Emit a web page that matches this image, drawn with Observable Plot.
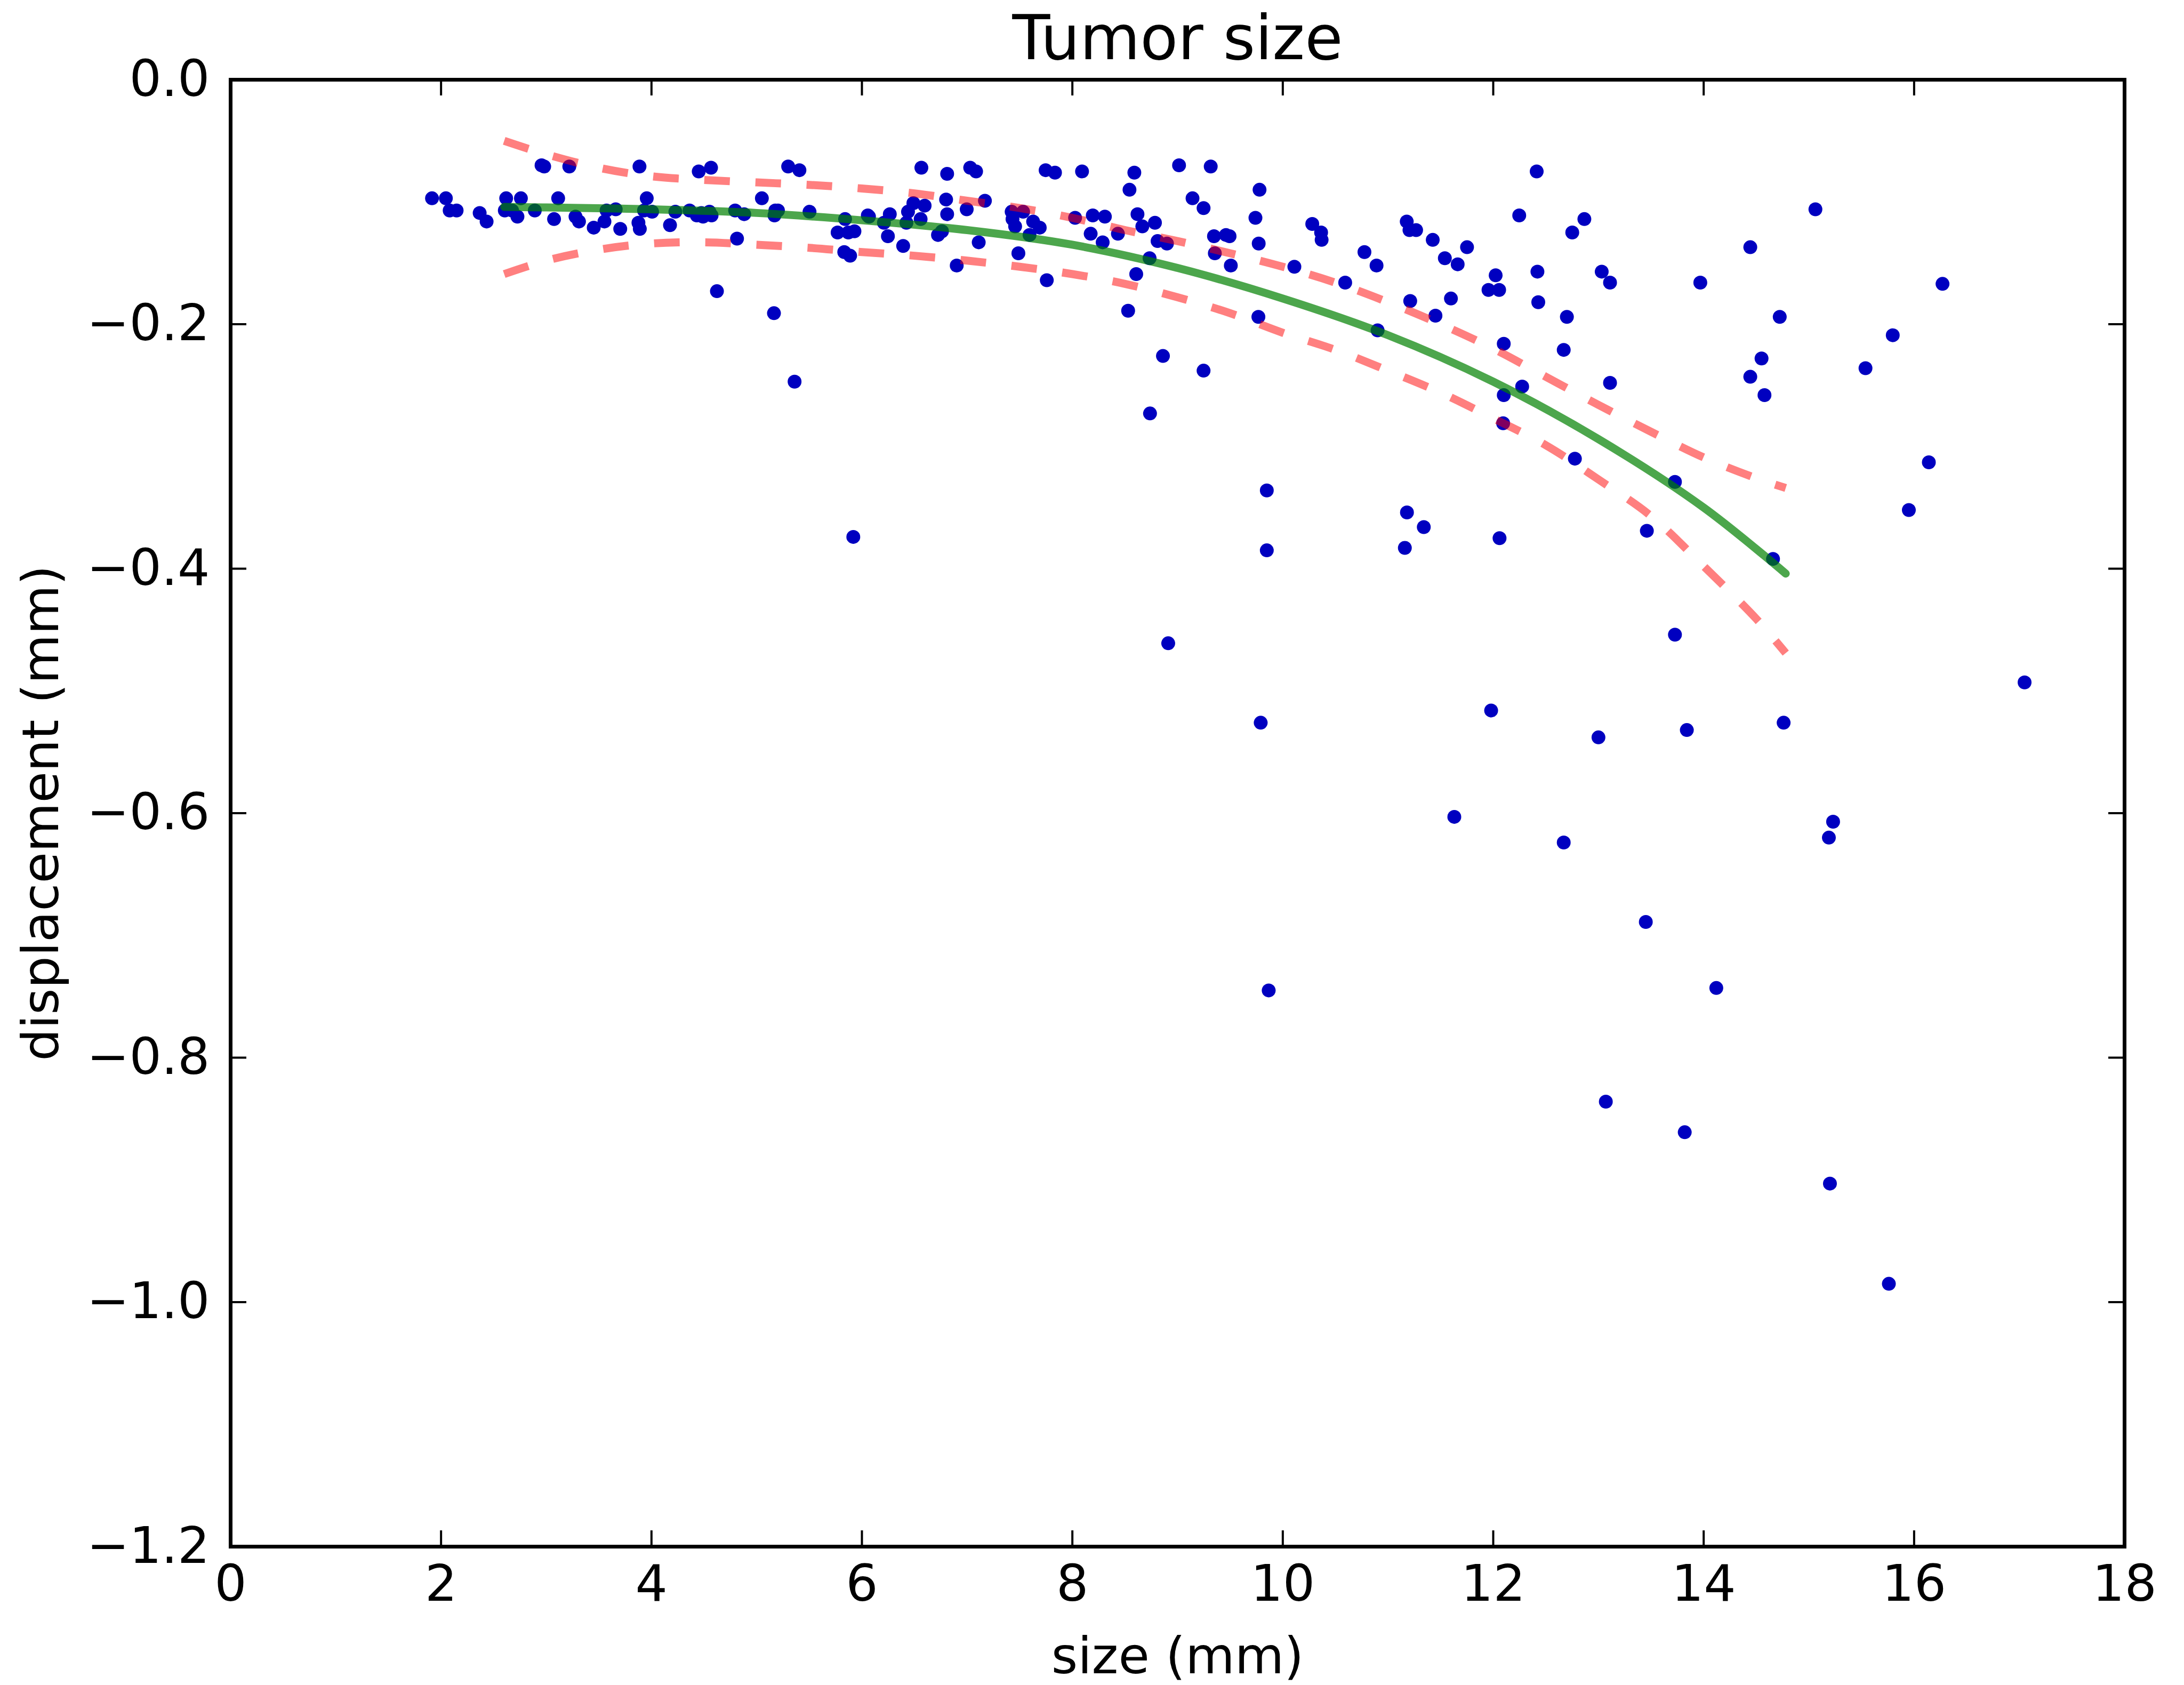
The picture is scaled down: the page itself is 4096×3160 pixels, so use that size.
<!DOCTYPE html>
<html>
<head>
<meta charset="utf-8">
<script src="https://cdn.jsdelivr.net/npm/d3@7"></script>
<script src="https://cdn.jsdelivr.net/npm/@observablehq/plot@0.6"></script>
<style>
  html, body { margin: 0; padding: 0; background: #ffffff; }
  #chart svg { display: block; }
</style>
</head>
<body>
<div id="chart"></div>
<script>
// ---- Data ----
const sizes = [
  1.914, 2.046, 2.082, 2.148, 2.367, 2.433, 2.619, 2.606, 2.675, 2.726,
  2.759, 2.955, 2.980, 2.891, 3.113, 3.074, 3.219, 3.278, 3.311, 3.451,
  3.553, 3.573, 3.660, 3.703, 3.886, 3.955, 3.929, 4.006, 3.876, 3.889,
  4.227, 4.176, 4.449, 4.566, 4.362, 4.431, 4.474, 4.490, 4.551, 4.571,
  4.813, 4.622, 4.795, 4.881, 5.049, 5.177, 5.202, 5.169, 5.164, 5.299,
  5.406, 5.360, 5.502, 5.840, 5.769, 5.871, 5.929, 5.832, 5.888, 6.056,
  6.067, 6.209, 6.265, 6.247, 6.392, 6.438, 6.489, 6.596, 6.423, 6.558,
  6.565, 6.810, 6.800, 6.810, 6.761, 6.723, 6.901, 7.029, 7.085, 6.996,
  7.169, 7.110, 7.423, 7.532, 7.431, 7.456, 7.627, 7.690, 7.593, 7.487,
  7.746, 7.835, 8.092, 7.757, 8.026, 8.194, 8.309, 8.174, 8.288, 8.433,
  8.589, 8.543, 8.619, 8.665, 8.785, 8.810, 8.899, 8.734, 8.607, 8.530,
  8.861, 9.014, 8.738, 9.315, 9.142, 9.247, 9.346, 9.460, 9.494, 9.354,
  9.506, 9.247, 9.779, 9.740, 9.771, 9.768, 9.848, 10.110, 10.280, 10.364,
  10.369, 10.593, 10.776, 10.891, 10.901, 11.178, 11.204, 11.267, 11.425, 11.211,
  11.540, 11.662, 11.751, 11.598, 11.451, 12.247, 12.413, 12.023, 11.955, 12.056,
  12.420, 12.428, 12.100, 12.275, 12.100, 12.094, 12.700, 12.670, 12.866, 12.751,
  13.031, 13.110, 13.110, 12.776, 13.727, 13.968, 14.443, 15.062, 14.723, 14.550,
  14.443, 14.578, 15.797, 15.538, 16.270, 16.140, 5.918, 8.911, 9.848, 9.790,
  9.866, 11.180, 11.340, 11.160, 12.060, 13.460, 14.659, 15.950, 13.727, 11.980,
  13.000, 13.840, 14.760, 11.630, 12.670, 15.230, 15.190, 13.450, 14.120, 13.070,
  13.820, 15.200, 15.760, 17.050
];
const displacements = [
  -0.097, -0.097, -0.107, -0.107, -0.109, -0.116, -0.097, -0.107, -0.107, -0.112,
  -0.097, -0.070, -0.071, -0.107, -0.097, -0.114, -0.071, -0.112, -0.116, -0.121,
  -0.116, -0.107, -0.106, -0.122, -0.071, -0.097, -0.107, -0.108, -0.117, -0.122,
  -0.108, -0.119, -0.075, -0.072, -0.107, -0.111, -0.109, -0.112, -0.108, -0.111,
  -0.130, -0.173, -0.107, -0.110, -0.097, -0.107, -0.107, -0.111, -0.191, -0.071,
  -0.074, -0.247, -0.108, -0.114, -0.125, -0.125, -0.124, -0.141, -0.144, -0.111,
  -0.112, -0.117, -0.110, -0.128, -0.136, -0.108, -0.101, -0.103, -0.117, -0.114,
  -0.072, -0.077, -0.098, -0.110, -0.124, -0.127, -0.152, -0.072, -0.075, -0.106,
  -0.099, -0.133, -0.108, -0.108, -0.114, -0.120, -0.116, -0.121, -0.127, -0.142,
  -0.074, -0.076, -0.075, -0.164, -0.113, -0.111, -0.112, -0.126, -0.133, -0.126,
  -0.076, -0.090, -0.110, -0.120, -0.117, -0.132, -0.134, -0.146, -0.159, -0.189,
  -0.226, -0.070, -0.273, -0.071, -0.097, -0.105, -0.128, -0.127, -0.128, -0.142,
  -0.152, -0.238, -0.090, -0.113, -0.134, -0.194, -0.336, -0.153, -0.118, -0.125,
  -0.131, -0.166, -0.141, -0.152, -0.205, -0.116, -0.123, -0.123, -0.131, -0.181,
  -0.146, -0.151, -0.137, -0.179, -0.193, -0.111, -0.075, -0.160, -0.172, -0.172,
  -0.157, -0.182, -0.216, -0.251, -0.258, -0.281, -0.194, -0.221, -0.114, -0.125,
  -0.157, -0.166, -0.248, -0.310, -0.329, -0.166, -0.137, -0.106, -0.194, -0.228,
  -0.243, -0.258, -0.209, -0.236, -0.167, -0.313, -0.374, -0.461, -0.385, -0.526,
  -0.745, -0.354, -0.366, -0.383, -0.375, -0.369, -0.392, -0.352, -0.454, -0.516,
  -0.538, -0.532, -0.526, -0.603, -0.624, -0.607, -0.620, -0.689, -0.743, -0.836,
  -0.861, -0.903, -0.985, -0.493
];

// fitted curve (green)
const fitSize = [2.6, 3, 4, 5, 6, 7, 8, 9, 10, 11, 12, 13, 14, 14.78];
const fitMean = [-0.104, -0.1045, -0.106, -0.109, -0.115, -0.123, -0.135, -0.154, -0.179, -0.209, -0.247, -0.294, -0.350, -0.404];

// confidence band (red dashed)
const bandSize  = [2.6, 3.0, 3.5, 4.0, 4.5, 5.0, 5.5, 6.0, 6.5, 7.0, 7.5, 8.0, 8.5, 9.0, 9.5, 10.0, 10.5, 11.0, 11.5, 12.0, 12.5, 13.0, 13.5, 14.0, 14.5, 14.78];
const bandUpper = [-0.050, -0.061, -0.072, -0.079, -0.082, -0.084, -0.086, -0.089, -0.093, -0.099, -0.105, -0.113, -0.123, -0.132, -0.142, -0.153, -0.166, -0.182, -0.200, -0.220, -0.243, -0.266, -0.288, -0.309, -0.326, -0.334];
const bandLower = [-0.159, -0.148, -0.139, -0.134, -0.133, -0.135, -0.1375, -0.141, -0.144, -0.148, -0.153, -0.159, -0.167, -0.178, -0.191, -0.207, -0.221, -0.238, -0.256, -0.277, -0.299, -0.327, -0.357, -0.398, -0.441, -0.469];

const xTicks = [0, 2, 4, 6, 8, 10, 12, 14, 16, 18];
const yTicks = [0, -0.2, -0.4, -0.6, -0.8, -1.0, -1.2];

const titleText = "Tumor size";
const xLabel = "size (mm)";
const yLabel = "displacement (mm)";

// ---- Tables built from the arrays ----
const points = sizes.map((s, i) => ({size: s, disp: displacements[i]}));
const fit = fitSize.map((s, i) => ({size: s, disp: fitMean[i]}));
const upper = bandSize.map((s, i) => ({size: s, disp: bandUpper[i]}));
const lower = bandSize.map((s, i) => ({size: s, disp: bandLower[i]}));

// ---- Layout ----
const W = 4096, H = 3160;
const mL = 432, mR = 112, mT = 149, mB = 260;
const frameW = W - mL - mR;
const frameH = H - mT - mB;
const tickLen = 30;
const fontTick = 95;

const chart = Plot.plot({
  width: W,
  height: H,
  marginLeft: mL,
  marginRight: mR,
  marginTop: mT,
  marginBottom: mB,
  style: {fontFamily: "'DejaVu Sans', sans-serif", fontSize: fontTick + "px", background: "#ffffff", color: "#000000"},
  x: {domain: [0, 18]},
  y: {domain: [-1.2, 0]},
  marks: [
    Plot.dot(points, {x: "size", y: "disp", r: 13, fill: "#0000c0", stroke: "none"}),
    Plot.line(upper, {x: "size", y: "disp", stroke: "#ff0000", strokeOpacity: 0.5, strokeWidth: 15, strokeDasharray: "48,48", strokeLinecap: "butt", curve: "catmull-rom"}),
    Plot.line(lower, {x: "size", y: "disp", stroke: "#ff0000", strokeOpacity: 0.5, strokeWidth: 15, strokeDasharray: "48,48", strokeLinecap: "butt", curve: "catmull-rom"}),
    Plot.line(fit, {x: "size", y: "disp", stroke: "#008000", strokeOpacity: 0.7, strokeWidth: 15, curve: "catmull-rom"}),
    // inward ticks on all four sides
    Plot.tickX(xTicks, {x: d => d, insetTop: frameH - tickLen, stroke: "#000", strokeWidth: 4}),
    Plot.tickX(xTicks, {x: d => d, insetBottom: frameH - tickLen, stroke: "#000", strokeWidth: 4}),
    Plot.tickY(yTicks, {y: d => d, insetRight: frameW - tickLen, stroke: "#000", strokeWidth: 4}),
    Plot.tickY(yTicks, {y: d => d, insetLeft: frameW - tickLen, stroke: "#000", strokeWidth: 4}),
    Plot.frame({stroke: "#000", strokeWidth: 7}),
    Plot.axisX(xTicks, {tickSize: 0, tickPadding: 34, fontSize: fontTick, label: null, tickFormat: d3.format("d")}),
    Plot.axisY(yTicks, {tickSize: 0, tickPadding: 39, fontSize: fontTick, label: null, tickFormat: d3.format(".1f")}),
    Plot.text([xLabel], {text: d => d, frameAnchor: "bottom", dy: 237, lineAnchor: "bottom", textAnchor: "middle", fontSize: fontTick, fill: "#000"}),
    Plot.text([yLabel], {text: d => d, frameAnchor: "left", dx: -324, rotate: -90, lineAnchor: "bottom", textAnchor: "middle", fontSize: fontTick, fill: "#000"}),
    Plot.text([titleText], {text: d => d, frameAnchor: "top", dy: -39, lineAnchor: "bottom", textAnchor: "middle", fontSize: 116, fill: "#000"})
  ]
});

document.getElementById("chart").appendChild(chart);
</script>
</body>
</html>
